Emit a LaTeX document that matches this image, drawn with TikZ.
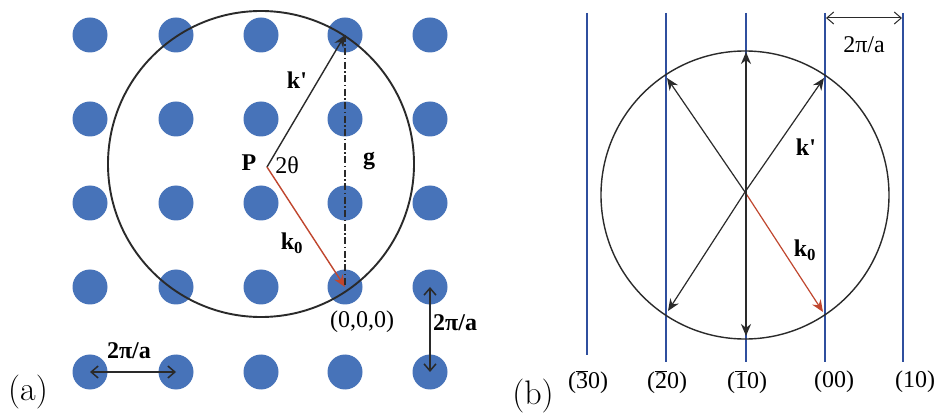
\documentclass[tikz,border=0pt]{standalone}
\usepackage{fontspec}
\newfontfamily\tms{Liberation Serif}
\usetikzlibrary{arrows.meta}
\definecolor{dotblue}{HTML}{4773B9}
\definecolor{lineblue}{HTML}{2F4F9E}
\definecolor{kred}{HTML}{C0462E}
\definecolor{ink}{HTML}{2A2A2A}
\tikzset{
  latdot/.style={circle,fill=dotblue,inner sep=0pt,minimum size=35pt},
  bl/.style={font=\tms\bfseries\fontsize{24}{24}\selectfont,inner sep=1pt},
  nl/.style={font=\tms\fontsize{24}{24}\selectfont,inner sep=1pt},
  panel/.style={font=\fontsize{34}{34}\selectfont,inner sep=0pt},
  vec/.style={draw=ink,line width=1.4pt,-{Stealth[length=12pt,width=10pt]}},
  redvec/.style={draw=kred,line width=1.4pt,-{Stealth[length=12pt,width=10pt]}},
  dim/.style={draw=ink,line width=1.5pt,{Straight Barb[length=7pt,width=12pt]}-{Straight Barb[length=7pt,width=12pt]}},
  plane/.style={draw=lineblue,line width=2.2pt},
  ewald/.style={draw=ink,line width=1.9pt},
}
\begin{document}
\begin{tikzpicture}[x=1pt,y=-1pt]
\useasboundingbox (0,0) rectangle (938,414);
\fill[white] (0,0) rectangle (938,414);
% ---------- panel (a) ----------
\foreach \i/\x in {0/90,1/176,2/261,3/345,4/430}{
  \foreach \j/\y in {0/35,1/119,2/203,3/287,4/372}{
    \node[latdot] (d\i\j) at (\x,\y) {};
  }
}
\draw[ewald] (261,164) circle[radius=153];
\coordinate (P) at (267,167);
\draw[vec] (P) -- (d30.center);
\draw[redvec] (P) -- (d33.center);
\draw[ink,line width=1.3pt,dash pattern=on 7pt off 2.5pt on 1.5pt off 2.5pt] (d30.center) -- (d33.center);
\node[bl] (lkp) at (297,80) {k'};
\node[bl] (lP) at (249,163) {P};
\node[nl] (l2t) at (287,165) {2θ};
\node[bl] (lg) at (369,161) {g};
\node[bl] (lk0) at (292,243) {k\textsubscript{0}};
\node[nl] (l000) at (362,322) {(0,0,0)};
\draw[dim] (d43.center) -- (d44.center);
\node[bl,anchor=west] (lv) at (432,323) {2π/a};
\draw[dim] (d04.center) -- (d14.center);
\node[bl] (lh) at (129,351) {2π/a};
\node[panel] (pa) at (28,392) {(a)};
% ---------- panel (b) ----------
\coordinate (t1) at (587,13); \coordinate (b1) at (587,355);
\coordinate (t2) at (666,13); \coordinate (b2) at (666,362);
\coordinate (t3) at (746,13); \coordinate (b3) at (746,362);
\coordinate (t4) at (825,13); \coordinate (b4) at (825,362);
\coordinate (t5) at (903,13); \coordinate (b5) at (903,362);
\foreach \k in {1,...,5}{\draw[plane] (t\k) -- (b\k);}
\coordinate (C) at (745,192);
\draw[ewald,line width=1.4pt] (745,195) circle[radius=144];
\coordinate (e1) at (824,78);
\coordinate (e2) at (667,78);
\coordinate (e3) at (668,311);
\coordinate (e4) at (823,312);
\coordinate (vt) at (746,52);
\coordinate (vb) at (746,336);
\draw[vec,line width=1.2pt] (C) -- (e1);
\draw[vec,line width=1.2pt] (C) -- (e2);
\draw[vec,line width=1.2pt] (C) -- (e3);
\draw[redvec,line width=1.2pt] (C) -- (e4);
\draw[draw=ink,line width=2pt,{Stealth[length=12pt,width=10pt]}-{Stealth[length=12pt,width=10pt]}] (vt) -- (vb);
\coordinate (a1) at (826,18); \coordinate (a2) at (902,18);
\draw[dim,line width=1pt] (a1) -- (a2);
\node[nl] (lba) at (864,45) {2π/a};
\node[bl] (lbkp) at (806,147) {k'};
\node[bl] (lbk0) at (805,250) {k\textsubscript{0}};
\node[nl] (m1) at (588,382) {($\overline{\hbox{3}}$0)};
\node[nl] (m2) at (667,382) {($\overline{\hbox{2}}$0)};
\node[nl] (m3) at (747,382) {($\overline{\hbox{1}}$0)};
\node[nl] (m4) at (834,382) {(00)};
\node[nl] (m5) at (915,382) {(10)};
\node[panel] (pb) at (533,396) {(b)};
\end{tikzpicture}
\end{document}
